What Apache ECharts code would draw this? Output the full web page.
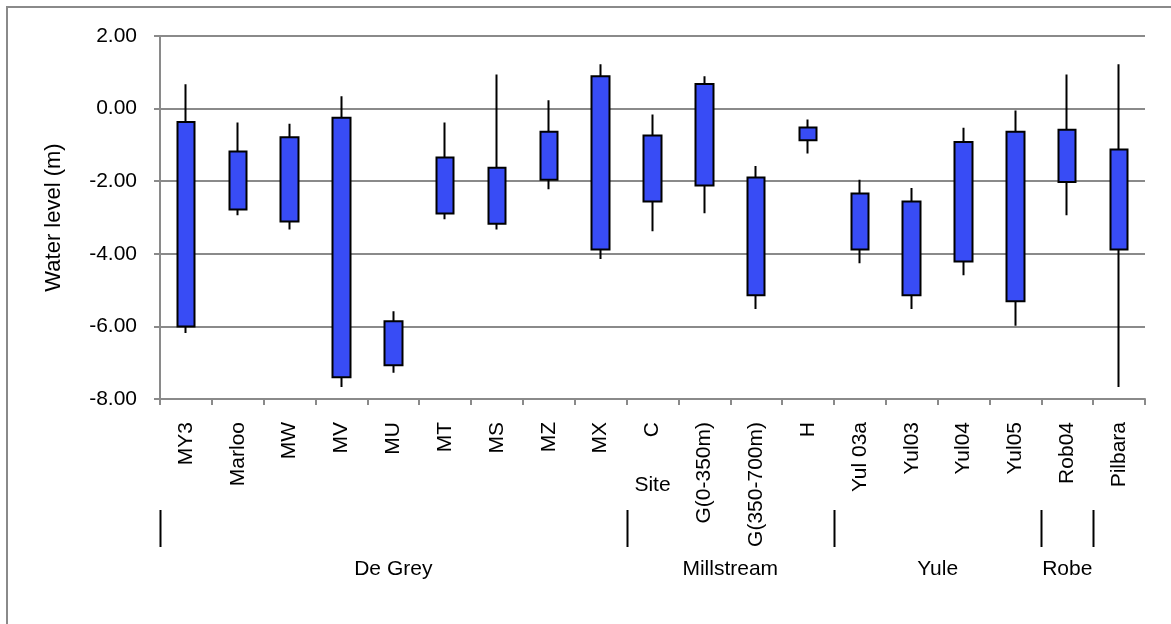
<!DOCTYPE html>
<html>
<head>
<meta charset="utf-8">
<title>Water level by site</title>
<script src="https://cdn.jsdelivr.net/npm/echarts@6/dist/echarts.min.js"></script>
<style>
  html, body { margin: 0; padding: 0; background: #ffffff; }
  #chart { width: 1171px; height: 624px; }
</style>
</head>
<body>
<div id="chart"></div>
<script>
// Sites along the category axis
const sites = ['MY3', 'Marloo', 'MW', 'MV', 'MU', 'MT', 'MS', 'MZ', 'MX', 'C',
  'G(0-350m)', 'G(350-700m)', 'H', 'Yul 03a', 'Yul03', 'Yul04', 'Yul05', 'Rob04', 'Pilbara'];

// Water level (m): box top / bottom and whisker high / low for each site
const boxTop    = [-0.37, -1.18, -0.79, -0.25, -5.86, -1.35, -1.63, -0.64, 0.89, -0.74,
  0.68, -1.90, -0.52, -2.34, -2.56, -0.92, -0.64, -0.58, -1.13];
const boxBottom = [-6.00, -2.78, -3.11, -7.40, -7.07, -2.89, -3.17, -1.96, -3.88, -2.56,
  -2.12, -5.14, -0.87, -3.88, -5.14, -4.21, -5.31, -2.02, -3.88];
const highs     = [0.67, -0.38, -0.42, 0.34, -5.58, -0.38, 0.94, 0.23, 1.22, -0.16,
  0.89, -1.58, -0.30, -1.96, -2.19, -0.53, -0.05, 0.94, 1.22];
const lows      = [-6.18, -2.94, -3.33, -7.67, -7.28, -3.05, -3.33, -2.22, -4.14, -3.38,
  -2.88, -5.52, -1.24, -4.26, -5.52, -4.59, -5.98, -2.94, -7.67];

// Region groups: first and last site index of each
const groupNames = ['De Grey', 'Millstream', 'Yule', 'Robe'];
const groupFirst = [0, 9, 13, 17];
const groupLast  = [8, 12, 16, 17];

// Y axis range and step
const yMin = -8, yMax = 2, yStep = 2;

const FONT = '"Liberation Sans", Arial, sans-serif';
const FS = 21;
const GRID_GREY = '#8a8a8a';
const BOX_BLUE = '#384cf5';

const candleData = sites.map((_, i) => [boxTop[i], boxBottom[i], lows[i], highs[i]]);

const chart = echarts.init(document.getElementById('chart'), null, { renderer: 'canvas' });

const option = {
  animation: false,
  backgroundColor: '#ffffff',
  textStyle: { fontFamily: FONT },
  grid: { left: 160, right: 26, top: 36, bottom: 225 },
  xAxis: {
    type: 'category',
    data: sites,
    boundaryGap: true,
    name: 'Site',
    nameLocation: 'middle',
    nameGap: 76,
    nameMoveOverlap: false,
    nameTextStyle: { color: '#000', fontSize: FS, fontFamily: FONT },
    axisLine: { show: true, onZero: false, lineStyle: { color: GRID_GREY, width: 2 } },
    axisTick: { show: true, interval: 0, length: 6, lineStyle: { color: GRID_GREY, width: 2 } },
    axisLabel: {
      interval: 0, rotate: 90, margin: 23,
      color: '#000', fontSize: FS, fontFamily: FONT
    },
    splitLine: { show: false }
  },
  yAxis: {
    type: 'value',
    min: yMin, max: yMax, interval: yStep,
    name: 'Water level (m)',
    nameLocation: 'middle',
    nameGap: 95,
    nameRotate: 90,
    nameMoveOverlap: false,
    nameTextStyle: { color: '#000', fontSize: 22, fontFamily: FONT },
    axisLine: { show: true, lineStyle: { color: GRID_GREY, width: 2 } },
    axisTick: { show: true, length: 6, lineStyle: { color: GRID_GREY, width: 2 } },
    axisLabel: {
      margin: 23, color: '#000', fontSize: FS, fontFamily: FONT,
      formatter: v => v.toFixed(2)
    },
    splitLine: { show: true, lineStyle: { color: GRID_GREY, width: 2 } }
  },
  series: [{
    type: 'candlestick',
    data: candleData,
    barWidth: 18,
    itemStyle: {
      color: BOX_BLUE, color0: BOX_BLUE,
      borderColor: '#000', borderColor0: '#000',
      borderWidth: 2
    }
  }]
};

chart.setOption(option);

// Group separators and group names beneath the site labels, placed from the category axis
function drawGroups() {
  const c0 = chart.convertToPixel({ xAxisIndex: 0 }, 0);
  const c1 = chart.convertToPixel({ xAxisIndex: 0 }, 1);
  const band = c1 - c0;
  const edge = idx => c0 + (idx - 0.5) * band;

  const elements = [];
  const bounds = groupFirst.slice();
  bounds.push(groupLast[groupLast.length - 1] + 1);
  bounds.forEach(b => {
    const x = Math.round(edge(b)) + 0.5;
    elements.push({
      type: 'line',
      shape: { x1: x, y1: 510, x2: x, y2: 547 },
      style: { stroke: '#000', lineWidth: 2 },
      silent: true
    });
  });
  groupNames.forEach((name, g) => {
    const cx = (edge(groupFirst[g]) + edge(groupLast[g] + 1)) / 2;
    elements.push({
      type: 'text',
      x: cx, y: 569,
      style: {
        text: name, fill: '#000', fontSize: FS, fontFamily: FONT,
        align: 'center', verticalAlign: 'middle'
      },
      silent: true
    });
  });
  // Outer chart frame
  elements.push({
    type: 'rect',
    shape: { x: 7, y: 7, width: 1300, height: 800 },
    style: { fill: 'none', stroke: GRID_GREY, lineWidth: 2 },
    silent: true,
    z: 100
  });
  chart.setOption({ graphic: { elements: elements } });
}

drawGroups();
</script>
</body>
</html>
